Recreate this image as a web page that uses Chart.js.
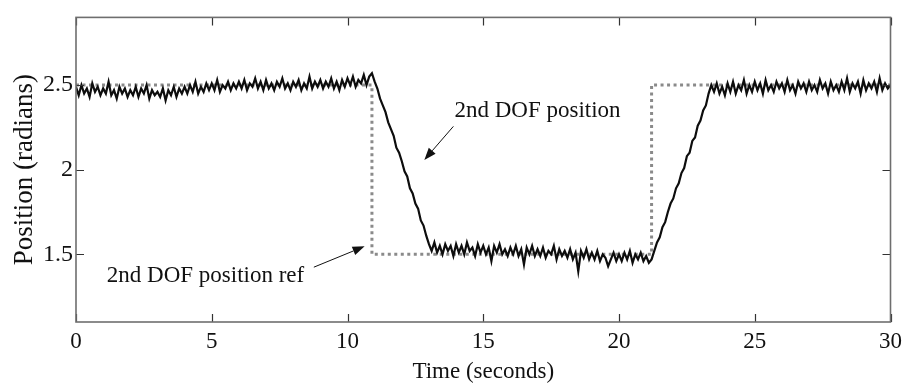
<!DOCTYPE html>
<html>
<head>
<meta charset="utf-8">
<script src="https://cdn.jsdelivr.net/npm/chart.js@4/dist/chart.umd.min.js"></script>
<style>
  html, body { margin: 0; padding: 0; background: #fff; }
  #wrap { width: 908px; height: 390px; }
</style>
</head>
<body>
<div id="wrap"><canvas id="pos-chart" width="908" height="390"></canvas></div>
<script>
const positionValues = [
  2.49, 2.44, 2.50, 2.45, 2.48, 2.43, 2.51, 2.46, 2.49, 2.44,
  2.48, 2.45, 2.52, 2.44, 2.47, 2.42, 2.49, 2.45, 2.48, 2.43,
  2.47, 2.44, 2.49, 2.43, 2.48, 2.45, 2.50, 2.42, 2.47, 2.44,
  2.46, 2.43, 2.48, 2.41, 2.47, 2.44, 2.49, 2.43, 2.48, 2.45,
  2.49, 2.45, 2.50, 2.46, 2.52, 2.45, 2.49, 2.46, 2.51, 2.47,
  2.51, 2.47, 2.53, 2.46, 2.50, 2.48, 2.52, 2.47, 2.51, 2.48,
  2.52, 2.48, 2.53, 2.47, 2.51, 2.49, 2.54, 2.48, 2.52, 2.47,
  2.53, 2.48, 2.51, 2.47, 2.52, 2.49, 2.54, 2.48, 2.51, 2.47,
  2.52, 2.49, 2.53, 2.47, 2.51, 2.48, 2.55, 2.48, 2.52, 2.49,
  2.53, 2.48, 2.52, 2.49, 2.54, 2.48, 2.52, 2.47, 2.53, 2.49,
  2.54, 2.50, 2.55, 2.49, 2.53, 2.51, 2.56, 2.50, 2.55, 2.57,
  2.52, 2.48, 2.42, 2.38, 2.34, 2.28, 2.24, 2.20, 2.13, 2.10,
  2.05, 1.99, 1.96, 1.89, 1.86, 1.80, 1.77, 1.70, 1.67, 1.61,
  1.56, 1.52, 1.57, 1.51, 1.55, 1.50, 1.56, 1.52, 1.55, 1.49,
  1.56, 1.51, 1.55, 1.50, 1.57, 1.52, 1.54, 1.49, 1.56, 1.51,
  1.55, 1.50, 1.54, 1.46, 1.55, 1.51, 1.56, 1.50, 1.53, 1.49,
  1.54, 1.50, 1.55, 1.49, 1.53, 1.44, 1.54, 1.50, 1.55, 1.49,
  1.53, 1.49, 1.54, 1.48, 1.52, 1.50, 1.55, 1.47, 1.53, 1.49,
  1.52, 1.48, 1.53, 1.47, 1.51, 1.40, 1.52, 1.48, 1.53, 1.47,
  1.51, 1.47, 1.52, 1.46, 1.50, 1.48, 1.43, 1.47, 1.51, 1.46,
  1.50, 1.46, 1.51, 1.47, 1.52, 1.45, 1.50, 1.47, 1.51, 1.46,
  1.49, 1.45, 1.47, 1.52, 1.57, 1.60, 1.66, 1.69, 1.75, 1.80,
  1.83, 1.89, 1.92, 1.98, 2.01, 2.08, 2.10, 2.17, 2.19, 2.26,
  2.29, 2.35, 2.38, 2.45, 2.50, 2.46, 2.51, 2.45, 2.49, 2.44,
  2.51, 2.46, 2.52, 2.45, 2.50, 2.47, 2.53, 2.45, 2.50, 2.46,
  2.52, 2.47, 2.51, 2.45, 2.53, 2.47, 2.50, 2.46, 2.52, 2.48,
  2.51, 2.46, 2.53, 2.47, 2.50, 2.45, 2.52, 2.48, 2.51, 2.46,
  2.52, 2.47, 2.50, 2.46, 2.53, 2.48, 2.51, 2.45, 2.52, 2.47,
  2.50, 2.46, 2.52, 2.47, 2.54, 2.46, 2.51, 2.48, 2.52, 2.45,
  2.53, 2.47, 2.51, 2.48, 2.52, 2.46, 2.54, 2.47, 2.51, 2.48,
  2.50
];
const sampleStep = 0.1;

// reference (commanded) position, a square step
const refTimes  = [0, 10.9, 10.9, 21.2, 21.2, 30];
const refValues = [2.5, 2.5, 1.5, 1.5, 2.5, 2.5];

const xTicks = [0, 5, 10, 15, 20, 25, 30];
const yTicks = [1.5, 2, 2.5];

const SERIF = "'Liberation Serif', 'DejaVu Serif', serif";

// text labels with arrows, anchored in data units
const notes = [
  { text: "2nd DOF position", tx: 17.0, ty: 2.31, from: [13.9, 2.256], to: [12.83, 2.058] },
  { text: "2nd DOF position ref", tx: 4.77, ty: 1.335, from: [8.76, 1.424], to: [10.63, 1.547] }
];

const positionPoints = positionValues.map((v, i) => ({ x: +(i * sampleStep).toFixed(1), y: v }));
const refPoints = refTimes.map((t, i) => ({ x: t, y: refValues[i] }));

const framePlugin = {
  id: "frame",
  afterDraw(chart) {
    const { ctx, chartArea: a, scales: { x, y } } = chart;
    ctx.save();
    // inward tick marks on all four sides
    ctx.strokeStyle = "#333";
    ctx.lineWidth = 1.2;
    const tl = 8;
    ctx.beginPath();
    xTicks.forEach(t => {
      const px = Math.round(x.getPixelForValue(t)) + 0.5;
      ctx.moveTo(px, a.bottom); ctx.lineTo(px, a.bottom - tl);
      ctx.moveTo(px, a.top); ctx.lineTo(px, a.top + tl);
    });
    yTicks.forEach(v => {
      const py = Math.round(y.getPixelForValue(v)) + 0.5;
      ctx.moveTo(a.left, py); ctx.lineTo(a.left + tl, py);
      ctx.moveTo(a.right, py); ctx.lineTo(a.right - tl, py);
    });
    ctx.stroke();

    // box
    ctx.strokeStyle = "#6e6e6e";
    ctx.lineWidth = 1.6;
    ctx.strokeRect(a.left, a.top, a.right - a.left, a.bottom - a.top);

    // annotations
    ctx.fillStyle = "#111";
    ctx.strokeStyle = "#111";
    ctx.font = "23px " + SERIF;
    ctx.textAlign = "center";
    ctx.textBaseline = "alphabetic";
    notes.forEach(n => {
      ctx.fillText(n.text, x.getPixelForValue(n.tx), y.getPixelForValue(n.ty));
      const x0 = x.getPixelForValue(n.from[0]), y0 = y.getPixelForValue(n.from[1]);
      const x1 = x.getPixelForValue(n.to[0]), y1 = y.getPixelForValue(n.to[1]);
      const ang = Math.atan2(y1 - y0, x1 - x0);
      const hl = 12, hw = 4.5;
      const bx = x1 - hl * Math.cos(ang), by = y1 - hl * Math.sin(ang);
      ctx.lineWidth = 1;
      ctx.beginPath();
      ctx.moveTo(x0, y0); ctx.lineTo(bx, by);
      ctx.stroke();
      ctx.beginPath();
      ctx.moveTo(x1, y1);
      ctx.lineTo(bx + hw * Math.sin(ang), by - hw * Math.cos(ang));
      ctx.lineTo(bx - hw * Math.sin(ang), by + hw * Math.cos(ang));
      ctx.closePath();
      ctx.fill();
    });
    ctx.restore();
  }
};

new Chart(document.getElementById("pos-chart"), {
  type: "line",
  data: {
    datasets: [
      {
        label: "2nd DOF position",
        data: positionPoints,
        borderColor: "#0d0d0d",
        borderWidth: 2.2,
        pointRadius: 0,
        tension: 0,
        order: 1
      },
      {
        label: "2nd DOF position ref",
        data: refPoints,
        borderColor: "#8a8a8a",
        borderWidth: 3,
        borderDash: [3, 3.5],
        pointRadius: 0,
        tension: 0,
        order: 2
      }
    ]
  },
  options: {
    responsive: false,
    animation: false,
    layout: { padding: { top: 12, right: 14, left: 0, bottom: 0 } },
    plugins: { legend: { display: false }, tooltip: { enabled: false } },
    scales: {
      x: {
        type: "linear",
        min: 0,
        max: 30,
        afterBuildTicks: s => { s.ticks = xTicks.map(v => ({ value: v })); },
        afterFit: s => { s.height = 68; },
        grid: { display: false, drawTicks: false },
        border: { display: false },
        ticks: { color: "#111", padding: 6, font: { family: SERIF, size: 23 }, maxRotation: 0, callback: v => String(v) },
        title: { display: true, text: "Time (seconds)", color: "#111", padding: { top: 0, bottom: 4 }, font: { family: SERIF, size: 23 } }
      },
      y: {
        min: 1.1,
        max: 2.9,
        afterBuildTicks: s => { s.ticks = yTicks.map(v => ({ value: v })); },
        afterFit: s => { s.width = 76; },
        grid: { display: false, drawTicks: false },
        border: { display: false },
        ticks: { color: "#111", padding: 3, font: { family: SERIF, size: 24 }, callback: v => String(v) },
        title: { display: true, text: "Position (radians)", color: "#111", padding: { top: 9, bottom: 0 }, font: { family: SERIF, size: 27 } }
      }
    }
  },
  plugins: [framePlugin]
});
</script>
</body>
</html>
